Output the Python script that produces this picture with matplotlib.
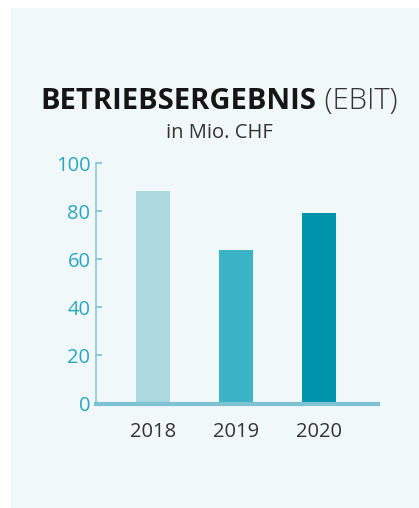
import matplotlib.pyplot as plt
from matplotlib.patches import Rectangle

years = ['2018', '2019', '2020']
ebit = [88.5, 64, 79.5]
bar_colors = ['#acd8e0', '#3ab3c6', '#0093ac']
yticks = [0, 20, 40, 60, 80, 100]

plt.rcParams['font.family'] = ['Open Sans', 'DejaVu Sans']

fig = plt.figure(figsize=(4.19, 5.08), dpi=100)
fig.patch.set_facecolor('white')
# light panel behind the chart
fig.patches.append(Rectangle((11 / 419, 0), 1 - 11 / 419, 500 / 508,
                             transform=fig.transFigure, color='#f1f8fa', zorder=-5))

ax = fig.add_axes([96 / 419, (508 - 403.5) / 508, 282 / 419, 240.2 / 508])
ax.set_facecolor('none')
ax.set_zorder(2)

x = range(len(years))
ax.bar(x, ebit, width=0.41, color=bar_colors, zorder=2)

ax.set_xlim(-0.687, 2.711)
ax.set_ylim(0, 100)
ax.set_yticks(yticks)
ax.set_xticks(list(x))
ax.set_xticklabels(years)

for s in ['top', 'right']:
    ax.spines[s].set_visible(False)
ax.spines['left'].set_color('#8ccad6')
ax.spines['left'].set_linewidth(1.2)
ax.spines['bottom'].set_color('#7ec3d1')
ax.spines['bottom'].set_linewidth(3)
ax.spines['bottom'].set_zorder(3)

ax.tick_params(axis='y', direction='in', length=4.5, width=1.5, color='#8ccad6',
               labelcolor='#2aa7bf', labelsize=14.5, pad=4)
ax.tick_params(axis='x', length=0, labelcolor='#333333', labelsize=14.5, pad=13)

# title: bold part + light part
fig.canvas.draw()
r = fig.canvas.get_renderer()
t1 = fig.text(0, 1 - 109 / 508, 'BETRIEBSERGEBNIS', fontsize=21, fontweight='bold',
              color='#151515', ha='left', va='baseline')
t2 = fig.text(0, 1 - 109 / 508, ' (EBIT)', fontsize=21, fontweight='light',
              color='#333333', ha='left', va='baseline')
w1 = t1.get_window_extent(r).width
w2 = t2.get_window_extent(r).width
x0 = 219 - (w1 + w2) / 2
t1.set_x(x0 / 419)
t2.set_x((x0 + w1) / 419)

fig.text(219 / 419, 1 - 138 / 508, 'in Mio. CHF', fontsize=14.5, color='#333333',
         ha='center', va='baseline')

fig.savefig('out.png', dpi=100, facecolor=fig.get_facecolor())
